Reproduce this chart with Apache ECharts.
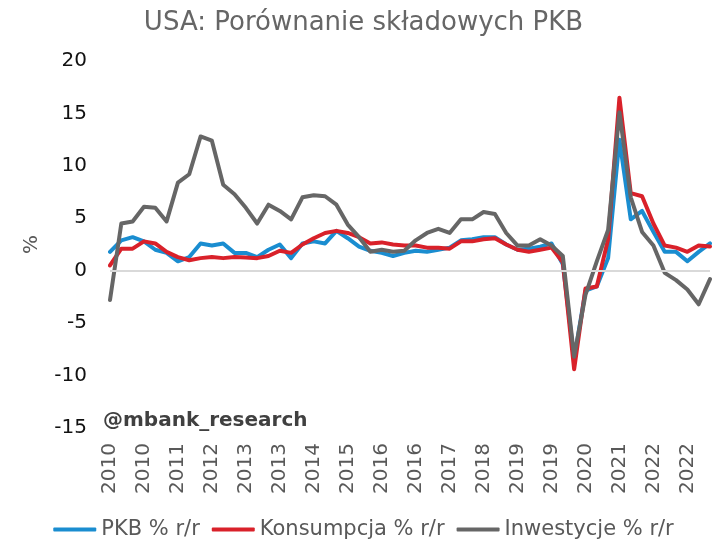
<!DOCTYPE html>
<html>
<head>
<meta charset="utf-8">
<script src="https://cdn.jsdelivr.net/npm/echarts@6/dist/echarts.min.js"></script>
<style>html,body{margin:0;padding:0;background:#fff}#c{width:727px;height:560px}</style>
</head>
<body>
<div id="c"></div>
<script>
var categories = [
'2010','2010','2010','2010','2011','2011','2011','2011','2012','2012','2012','2012',
'2013','2013','2013','2013','2014','2014','2014','2014','2015','2015','2015','2015',
'2016','2016','2016','2016','2017','2017','2017','2017','2018','2018','2018','2018',
'2019','2019','2019','2019','2020','2020','2020','2020','2021','2021','2021','2021',
'2022','2022','2022','2022','2023','2023'];
var pkb = [1.8,2.9,3.2,2.8,2.0,1.7,0.9,1.3,2.6,2.4,2.6,1.7,1.7,1.3,2.0,2.5,1.2,2.6,2.8,2.6,3.8,3.1,2.3,1.9,1.7,1.4,1.7,
1.9,1.8,2.0,2.2,2.9,3.0,3.2,3.2,2.5,2.0,2.1,2.3,2.6,0.6,
-8.4,-1.9,-1.5,1.2,12.5,4.9,5.7,3.7,1.8,1.8,0.9,1.8,2.6];
var konsumpcja = [0.5,2.1,2.1,2.8,2.6,1.8,1.3,1.0,1.2,1.3,1.2,1.3,1.25,1.2,1.4,1.9,1.7,2.5,3.1,3.6,3.8,3.6,3.2,2.6,2.7,2.5,2.4,
2.4,2.2,2.2,2.1,2.8,2.8,3.0,3.1,2.5,2.0,1.8,2.0,2.2,0.8,
-9.4,-1.7,-1.5,3.0,16.5,7.4,7.1,4.5,2.4,2.2,1.8,2.4,2.3];
var inwestycje = [-2.8,4.5,4.7,6.1,6.0,4.7,8.4,9.2,12.8,12.4,8.2,7.3,6.0,4.5,6.3,5.7,4.9,7.0,7.2,7.1,6.3,4.4,3.2,1.8,2.0,1.8,1.9,
2.9,3.6,4.0,3.6,4.9,4.9,5.6,5.4,3.6,2.4,2.4,3.0,2.4,1.4,
-8.2,-2.3,0.9,3.9,15.1,7.0,3.7,2.4,-0.2,-0.9,-1.8,-3.2,-0.8];
var seriesNames = ['PKB % r/r','Konsumpcja % r/r','Inwestycje % r/r'];
var colors = ['#1a8dd0','#d9212a','#666666'];

var chart = echarts.init(document.getElementById('c'), null, {renderer:'canvas'});
var FONT = 'DejaVu Sans';
function lineSeries(name, data, color){
  return {name:name, type:'line', data:data, symbol:'none', smooth:false,
    lineStyle:{color:color, width:4, cap:'round', join:'round'}, itemStyle:{color:color}};
}
chart.setOption({
  animation:false,
  backgroundColor:'#fff',
  textStyle:{fontFamily:FONT},
  title:{text:'USA: Porównanie składowych PKB', left:'center', top:5,
    textStyle:{fontFamily:FONT, fontSize:26, fontWeight:'normal', color:'#666666'}},
  grid:{left:110, right:17, top:61, bottom:132, containLabel:false},
  legend:{data:seriesNames, bottom:15, left:'center', icon:'roundRect', itemWidth:43, itemHeight:4, itemGap:12,
    textStyle:{fontFamily:FONT, fontSize:21, color:'#595959'}},
  graphic:[{type:'text', left:103, top:411, style:{text:'@mbank_research', fontFamily:FONT, fontSize:20, fontWeight:'bold', fill:'#404040'}}],
  xAxis:{type:'category', data:categories, boundaryGap:false,
    axisLine:{show:false}, axisTick:{show:false}, splitLine:{show:false},
    axisLabel:{interval:2, rotate:90, margin:15, fontFamily:FONT, fontSize:20, color:'#595959'}},
  yAxis:{type:'value', min:-15, max:20, interval:5, name:'%', nameLocation:'middle', nameGap:68, nameRotate:90,
    nameTextStyle:{fontFamily:FONT, fontSize:20, color:'#595959'},
    axisLine:{show:false}, axisTick:{show:false}, splitLine:{show:false},
    axisLabel:{margin:23, fontFamily:FONT, fontSize:20, color:'#111'}},
  series:[
    {name:'zero', type:'line', data:[], silent:true, z:1,
      markLine:{silent:true, symbol:'none', label:{show:false}, lineStyle:{color:'#d9d9d9', width:2, type:'solid'}, data:[{yAxis:0}]}},
    lineSeries(seriesNames[0], pkb, colors[0]),
    lineSeries(seriesNames[1], konsumpcja, colors[1]),
    lineSeries(seriesNames[2], inwestycje, colors[2])
  ]
});
</script>
</body>
</html>
